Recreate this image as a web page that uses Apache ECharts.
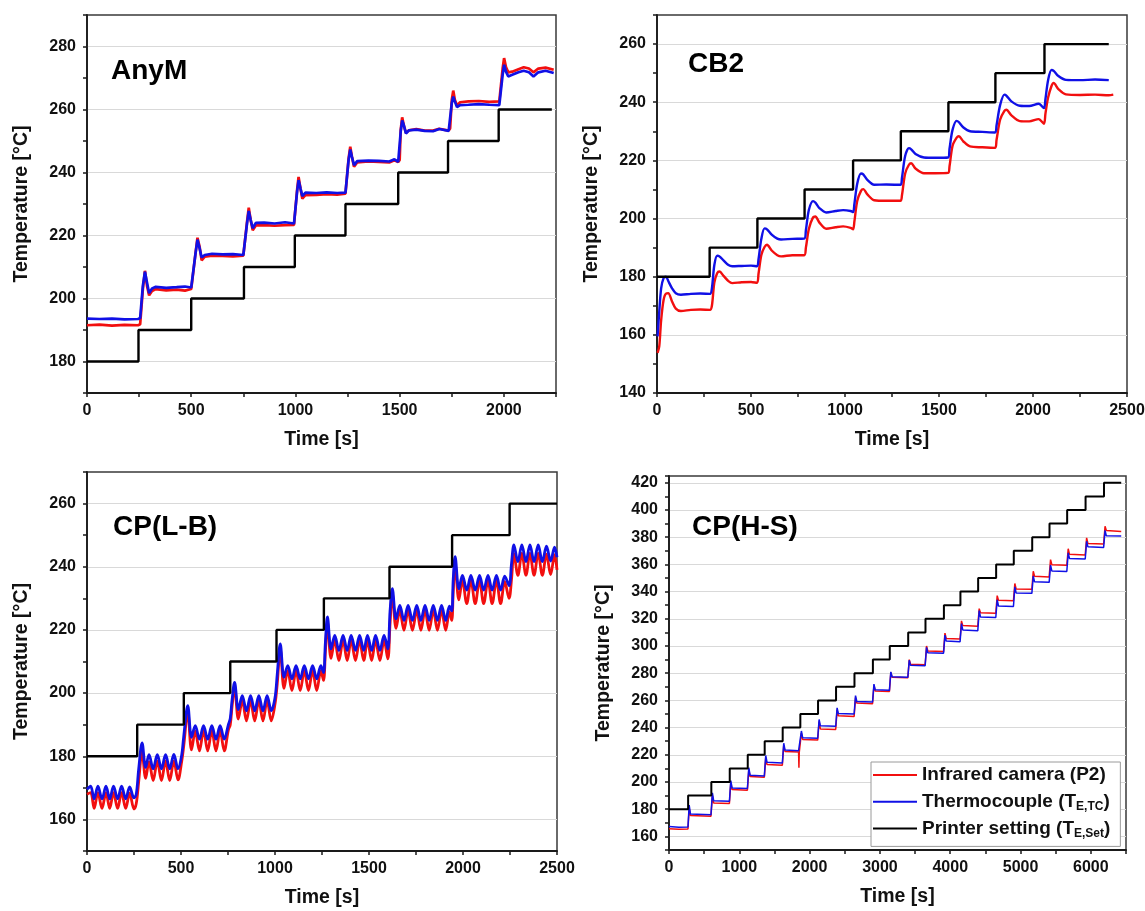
<!DOCTYPE html>
<html>
<head>
<meta charset="utf-8">
<title>Extruder temperature steps</title>
<script src="https://cdn.jsdelivr.net/npm/echarts@6/dist/echarts.min.js"></script>
<style>
  html, body { margin: 0; padding: 0; background: #ffffff; }
  #chart { width: 1145px; height: 911px; }
</style>
</head>
<body>
<div id="chart"></div>
<script>
// ---------- AnyM ----------
const anymTime = [0, 60, 120, 180, 245, 255, 268, 278, 288, 298, 312, 330, 380, 430, 470, 500, 508,
  520, 530, 540, 550, 565, 600, 650, 700, 750, 758, 768, 776, 785, 795, 810, 850, 900, 950, 993, 1000,
  1008, 1015, 1024, 1033, 1048, 1100, 1150, 1200, 1240, 1247, 1255, 1263, 1271, 1281, 1296, 1350, 1400,
  1450, 1475, 1493, 1500, 1505, 1512, 1520, 1530, 1545, 1580, 1620, 1660, 1690, 1735, 1742, 1750, 1757,
  1765, 1775, 1790, 1830, 1880, 1930, 1978, 1986, 1994, 2001, 2010, 2021, 2040, 2070, 2095, 2120, 2142,
  2165, 2200, 2239];
const anymTC = [193.6, 193.5, 193.6, 193.4, 193.5, 193.8, 204, 208.5, 205, 201.7, 203.2, 203.7, 203.4,
  203.6, 203.8, 203.5, 203.8, 214, 218.7, 216, 213, 213.8, 214.2, 214, 214.1, 213.8, 214.2, 224, 227.8,
  225, 222.3, 224, 224.1, 223.8, 224.2, 223.8, 224.3, 234, 237.6, 235, 232.5, 233.6, 233.5, 233.7, 233.5,
  233.6, 234, 244, 247.3, 245, 242.3, 243.6, 243.8, 243.7, 243.5, 244.2, 243.4, 244, 253, 256.5, 255,
  252.4, 253.4, 253.6, 253.2, 253.1, 253.8, 253.2, 253.8, 262, 264.1, 262.5, 260.8, 261.4, 261.5, 261.7,
  261.5, 261.4, 262, 271, 274.2, 272, 270.5, 271, 271.8, 272.3, 271.8, 270.5, 271.8, 272.3, 271.6];
const anymIR = [191.5, 191.7, 191.4, 191.6, 191.5, 191.8, 203, 208.8, 204, 201, 202.4, 203, 202.6,
  202.8, 202.5, 203, 203.3, 214, 219.3, 216.5, 212.1, 213.3, 213.6, 213.5, 213.4, 213.6, 214, 224.5, 228.8,
  225, 221.7, 223.2, 223.3, 223.1, 223.3, 223.4, 223.8, 234.5, 238.6, 235, 231.7, 232.8, 232.9, 233.1, 233,
  233.3, 233.8, 244.5, 248.2, 245, 241.8, 243.2, 243.5, 243.4, 243.2, 243.9, 243.3, 244, 253.5, 257.5, 255,
  252.6, 253.4, 253.8, 253.3, 253.3, 253.9, 253.3, 254, 263, 266, 263, 261.3, 262.3, 262.6, 262.7,
  262.4, 262.6, 263, 273, 276.3, 273.5, 271.8, 272, 272.8, 273.4, 273, 271.8, 273, 273.3, 272.6];
const anymSetTime = [0, 247, 500, 753, 997, 1240, 1493, 1732, 1975, 2230];
const anymSetTemp = [180, 190, 200, 210, 220, 230, 240, 250, 260, 260];

// ---------- CB2 ----------
const cb2Time = [3, 12, 22, 35, 48, 60, 80, 100, 127, 180, 230, 282, 292, 305, 320, 332, 355, 380, 400, 450,
  500, 532, 540, 555, 572, 585, 610, 640, 660, 720, 783, 792, 808, 830, 842, 865, 900, 950, 990, 1030,
  1043, 1050, 1065, 1085, 1097, 1120, 1155, 1220, 1295, 1303, 1320, 1340, 1352, 1375, 1420, 1480, 1548,
  1556, 1572, 1594, 1605, 1630, 1665, 1730, 1798, 1806, 1825, 1848, 1858, 1885, 1930, 1980, 2030, 2058,
  2066, 2080, 2098, 2110, 2135, 2175, 2250, 2330, 2403, 2427];
const cb2TC = [159.5, 168, 176, 179.5, 180, 178.5, 176, 174.3, 173.8, 174.1, 174.2, 174.1, 176, 184, 187.2,
  187, 185.5, 184, 183.6, 183.7, 183.8, 183.6, 186, 193, 196.6, 196.3, 194.5, 193.1, 192.8, 193, 193.1, 196,
  203, 206, 205.5, 203.5, 202.1, 202.6, 202.9, 202.6, 202.2, 205, 212, 215.5, 215.2, 213.2, 211.6, 211.7,
  211.6, 214, 221.5, 224.2, 223.8, 222.2, 221, 220.9, 221, 224, 230.5, 233.6, 233.2, 231.3, 230, 229.8,
  229.6, 232, 239, 242.6, 242.3, 240.3, 238.8, 238.7, 239.5, 238, 241, 247.5, 251.1, 250.8, 249, 247.7,
  247.6, 247.8, 247.6, null];
const cb2IR = [153.8, 156, 165, 172, 174.2, 174.3, 171.5, 169, 168.2, 168.6, 168.7, 168.6, 170, 178, 181.2,
  181.8, 180.2, 178.5, 177.8, 178.1, 178.2, 177.9, 181, 187.5, 190.2, 191, 189, 187.4, 187, 187.4, 187.4,
  190, 196.5, 200.4, 200.7, 198.5, 196.5, 197, 197.3, 196.8, 196.3, 199, 206, 209.5, 210.1, 208.2, 206.3,
  206.1, 206.1, 208, 215.5, 218.5, 219, 217.2, 215.6, 215.6, 215.7, 218, 225, 227.8, 228.3, 226.5, 224.8,
  224.5, 224.3, 227, 234, 237, 237.4, 235.5, 233.5, 233.4, 234.2, 232.6, 236, 241.5, 245.5, 246.6, 244.5,
  242.7, 242.5, 242.6, 242.4, 242.6];
const cb2SetTime = [0, 280, 534, 785, 1043, 1297, 1550, 1800, 2061, 2403];
const cb2SetTemp = [180, 190, 200, 210, 220, 230, 240, 250, 260, 260];

// ---------- CP(L-B) ----------
const lbTime = [0, 19, 38, 58, 80, 101, 121, 141, 163, 184, 206, 227, 250, 262,
  275, 293, 312, 330, 352, 374, 396, 418, 440, 462, 484, 504,
  514, 536, 556, 576, 598, 620, 642, 664, 686, 708, 730, 752, 762,
  772, 785, 805, 826, 848, 870, 892, 914, 936, 958, 980, 1000,
  1012, 1028, 1048, 1068, 1090, 1112, 1134, 1156, 1178, 1200, 1222, 1244, 1258,
  1268, 1279, 1298, 1318, 1340, 1362, 1384, 1405, 1428, 1450, 1472, 1492, 1514, 1535, 1558, 1580, 1600,
  1612, 1624, 1644, 1664, 1686, 1708, 1731, 1754, 1776, 1798, 1820, 1842, 1864, 1886, 1908, 1928, 1940,
  1948, 1958, 1978, 1997, 2020, 2042, 2065, 2088, 2110, 2133, 2155, 2178, 2200, 2222, 2245,
  2258, 2271, 2292, 2313, 2335, 2356, 2378, 2400, 2422, 2444, 2466, 2487, 2500];
const lbTC = [169.5, 170.5, 166.5, 170.5, 166.5, 170.5, 166.5, 170.5, 166.5, 170.5, 166.5, 170.3, 166.8, 168,
  176, 184.2, 176.5, 180.5, 176, 180.5, 176, 180.5, 176, 180.6, 176, 180.5,
  186, 196, 186, 189.7, 185.4, 189.7, 185.4, 189.7, 185.4, 189.7, 185.4, 190, 192,
  198, 203.4, 194.8, 199.2, 194.4, 199.2, 194.4, 199.2, 194.4, 199.2, 194.4, 198.5,
  206, 215.6, 205, 208.7, 204.5, 208.7, 204.5, 208.7, 204.5, 208.7, 204.5, 208.7, 206.5,
  216, 224.1, 214, 218.3, 213.5, 218.3, 213.5, 218.3, 213.5, 218.3, 213.5, 218.3, 213.5, 218.3, 213.5, 218.3, 214,
  226, 233.1, 223.5, 227.8, 223, 227.8, 223, 227.8, 223, 227.8, 223, 227.8, 223, 227.8, 223, 227.5, 226,
  236, 243.2, 233, 237.3, 232.6, 237.3, 232.6, 237.3, 232.6, 237.3, 232.6, 237.3, 232.6, 237, 234,
  241, 246.9, 241.6, 246.9, 241.6, 246.9, 241.6, 246.9, 241.6, 246.5, 241.8, 246.2, 243];
const lbIR = [168, 168.5, 163.5, 168.5, 163.5, 168.5, 163.5, 168.5, 163.5, 168.5, 163.5, 168.3, 163.3, 165,
  172, 181.5, 173, 178.3, 172.3, 178.5, 172.3, 178.5, 172.3, 178.5, 172.5, 178.5,
  183, 193.9, 182, 188, 181.7, 188.1, 181.7, 188.1, 181.7, 188.1, 181.7, 188.3, 190,
  196, 201.8, 191.8, 197.6, 191.2, 197.6, 191.2, 197.6, 191.2, 197.6, 191.2, 196.5,
  203, 214, 201.5, 207.1, 200.8, 207.1, 200.8, 207.1, 200.8, 207.1, 200.8, 207.1, 204,
  213, 222.5, 211, 216.7, 210.3, 216.7, 210.3, 216.7, 210.3, 216.7, 210.3, 216.7, 210.3, 216.7, 210.3, 216.7, 210.8,
  222, 231.5, 220.5, 226.2, 219.9, 226.2, 219.9, 226.2, 219.9, 226.2, 219.9, 226.2, 219.9, 226.2, 219.9, 225.8, 223,
  232, 241, 229.5, 235.7, 228.3, 235.7, 228.3, 235.7, 228.3, 235.7, 228.3, 235.7, 228.3, 235.3, 230,
  236, 244.2, 237.3, 244.2, 237.3, 244.2, 237.3, 244.2, 237.3, 244, 237.5, 243.8, 239];
const lbSetTime = [0, 267, 515, 762, 1008, 1260, 1609, 1942, 2248, 2500];
const lbSetTemp = [180, 190, 200, 210, 220, 230, 240, 250, 260, 260];

// ---------- CP(H-S) ----------
const hsTime = [0, 140, 270, 287, 305, 597, 617, 635, 859, 879, 897, 1115, 1135, 1153, 1356,
  1376, 1394, 1612, 1632, 1650, 1843, 1848, 1853, 1863, 1883, 1901, 2115, 2135, 2153, 2371,
  2391, 2409, 2633, 2653, 2671, 2895, 2915, 2933, 3135, 3155, 3173, 3397, 3417, 3435, 3643,
  3663, 3681, 3905, 3925, 3943, 4140, 4160, 4178, 4392, 4412, 4430, 4648, 4668, 4686, 4899,
  4919, 4937, 5161, 5181, 5199, 5407, 5427, 5445, 5658, 5678, 5696, 5920, 5940, 5958, 6182,
  6202, 6220, 6432];
const hsTC = [167.2, 166.8, 167, 183, 176.5, 176, 192, 186.3, 185.8, 201, 195.6, 195.2, 210.5, 205, 204.5,
  219.5, 214.5, 214, 228.5, 223.5, 223, 223, 223, 223, 237.5, 232.6, 232.2, 246, 241.3, 241,
  254.5, 250.3, 250, 263.5, 259.2, 258.8, 272, 267.8, 267.4, 281, 277.4, 277, 289.5, 285.8, 285.5,
  299, 295, 294.7, 308, 303.6, 303.2, 316.5, 311.8, 311.3, 326, 321.4, 321, 334, 329.4, 329,
  343.5, 339, 338.7, 351.5, 347.2, 346.8, 359.5, 355.2, 354.8, 368.5, 364.4, 364, 377, 372.9, 372.5,
  385, 381, 380.8];
const hsIR = [165.6, 165.3, 165.5, 181, 175.3, 174.8, 190, 184.6, 184.2, 199.5, 194.4, 194, 209, 204, 203.5,
  218, 212.8, 212.3, 227, 222.5, 222, 210.5, 222, 222, 236, 231.3, 230.8, 244.5, 239, 238.6,
  253, 248.7, 248.2, 262, 258, 257.5, 271, 267, 266.6, 280.5, 277, 276.6, 290, 286.6, 286.2,
  300, 296.3, 295.9, 309.5, 305.6, 305.2, 318.5, 315, 314.6, 327.5, 324.4, 324, 337, 333.6, 333.2,
  346, 342, 341.7, 355, 351.3, 350.8, 363.5, 359.8, 359.3, 371.5, 367.4, 367, 379.5, 375.4, 375,
  388, 385, 384.2];
const hsSetTime = [0, 272, 602, 864, 1120, 1361, 1617, 1868, 2120, 2376, 2638, 2900, 3140, 3402, 3648,
  3910, 4145, 4397, 4653, 4904, 5166, 5412, 5663, 5925, 6187, 6432];
const hsSetTemp = [180, 190, 200, 210, 220, 230, 240, 250, 260, 270, 280, 290, 300, 310, 320,
  330, 340, 350, 360, 370, 380, 390, 400, 410, 420, 420];

// ---------- legend / panel names ----------
const panelNames = ['AnyM', 'CB2', 'CP(L-B)', 'CP(H-S)'];
const seriesNames = ['Infrared camera (P2)', 'Thermocouple (TE,TC)', 'Printer setting (TE,Set)'];
const legendLabels = ['Infrared camera (P2)', 'Thermocouple (T{sub|E,TC})', 'Printer setting (T{sub|E,Set})'];

// ---------- drawing ----------
const FONT = '"Liberation Sans", Arial, Helvetica, sans-serif';
const RED = '#f20f0f';
const BLUE = '#1010e6';
const BLACK = '#000000';
const GRIDLINE = '#d9d9d9';
const NONE = 'rgba(0,0,0,0)';
const INK = '#1a1a1a';

const panels = [
  { grid: { left: 87, top: 15, width: 469, height: 378 }, x: [0, 2250, 250, 500], y: [170, 290, 10, 20],
    name: [111, 57], time: anymTime, ir: anymIR, tc: anymTC, setT: anymSetTime, setV: anymSetTemp,
    lw: 2.7, setLw: 2.4, smooth: false },
  { grid: { left: 657, top: 15, width: 470, height: 378 }, x: [0, 2500, 250, 500], y: [140, 270, 10, 20],
    name: [688, 50], time: cb2Time, ir: cb2IR, tc: cb2TC, setT: cb2SetTime, setV: cb2SetTemp,
    lw: 2.4, setLw: 2.4, smooth: 0.3 },
  { grid: { left: 87, top: 472, width: 470, height: 379 }, x: [0, 2500, 250, 500], y: [150, 270, 10, 20],
    name: [113, 513], time: lbTime, ir: lbIR, tc: lbTC, setT: lbSetTime, setV: lbSetTemp,
    lw: 2.8, setLw: 2.4, smooth: 0.35 },
  { grid: { left: 669, top: 476, width: 457, height: 374 }, x: [0, 6500, 500, 1000], y: [150, 425, 10, 20],
    name: [692, 513], time: hsTime, ir: hsIR, tc: hsTC, setT: hsSetTime, setV: hsSetTemp,
    lw: 1.5, setLw: 2, smooth: false }
];

function zip(xs, ys) { return xs.map((x, i) => [x, ys[i]]); }

const labelStyle = { fontFamily: FONT, fontSize: 16, fontWeight: 'bold', color: '#111' };
const nameStyle = { fontFamily: FONT, fontSize: 19.5, fontWeight: 'bold', color: '#111' };

const grids = [], xAxes = [], yAxes = [], series = [], titles = [];

panels.forEach((p, i) => {
  grids.push(Object.assign({ show: true, borderColor: '#3a3a3a', borderWidth: 1.5,
    backgroundColor: '#fff', containLabel: false, outerBoundsMode: 'none' }, p.grid));

  titles.push({ text: panelNames[i], left: p.name[0], top: p.name[1], padding: 0,
    textStyle: { fontFamily: FONT, fontSize: 28, fontWeight: 'bold', color: '#000' } });

  const xMajor = p.x[3];
  xAxes.push({
    type: 'value', gridIndex: i, min: p.x[0], max: p.x[1], interval: p.x[2],
    name: 'Time [s]', nameLocation: 'middle', nameGap: 37, nameTextStyle: nameStyle,
    axisLine: { show: true, onZero: false, lineStyle: { color: INK, width: 1.8 } },
    axisTick: { show: true, inside: false, length: 4, lineStyle: { color: INK, width: 1.5 } },
    axisLabel: Object.assign({ margin: 10, formatter: v => (v % xMajor === 0 ? String(v) : '') }, labelStyle),
    splitLine: { show: false }
  });

  const yMajor = p.y[3];
  yAxes.push({
    type: 'value', gridIndex: i, min: p.y[0], max: p.y[1], interval: p.y[2],
    name: 'Temperature [°C]', nameLocation: 'middle', nameGap: 55, nameTextStyle: nameStyle,
    axisLine: { show: true, onZero: false, lineStyle: { color: INK, width: 1.8 } },
    axisTick: { show: true, inside: false, length: 4, lineStyle: { color: INK, width: 1.5 } },
    axisLabel: Object.assign({ margin: 11, formatter: v => (v % yMajor === 0 ? String(v) : '') }, labelStyle),
    splitLine: { show: true, lineStyle: { width: 1.2,
      color: (p.y[0] % yMajor === 0) ? [GRIDLINE, NONE] : [NONE, GRIDLINE] } }
  });

  const common = { type: 'line', xAxisIndex: i, yAxisIndex: i, symbol: 'none', showSymbol: false,
    silent: true, animation: false };
  series.push(Object.assign({}, common, { name: seriesNames[0], data: zip(p.time, p.ir),
    smooth: p.smooth, lineStyle: { color: RED, width: p.lw }, itemStyle: { color: RED }, z: 2 }));
  series.push(Object.assign({}, common, { name: seriesNames[1], data: zip(p.time, p.tc),
    smooth: p.smooth, lineStyle: { color: BLUE, width: p.lw }, itemStyle: { color: BLUE }, z: 3 }));
  series.push(Object.assign({}, common, { name: seriesNames[2], data: zip(p.setT, p.setV),
    step: 'end', lineStyle: { color: BLACK, width: p.setLw }, itemStyle: { color: BLACK }, z: 4 }));
});

const chart = echarts.init(document.getElementById('chart'), null, { renderer: 'canvas' });
chart.setOption({
  backgroundColor: '#ffffff',
  animation: false,
  title: titles,
  grid: grids,
  xAxis: xAxes,
  yAxis: yAxes,
  legend: {
    data: seriesNames, orient: 'vertical', left: 871, top: 762,
    icon: 'rect', itemWidth: 44, itemHeight: 2, itemGap: 4.7, padding: [2, 10, 7, 2],
    backgroundColor: '#ffffff', borderColor: '#9a9a9a', borderWidth: 1, borderRadius: 0,
    selectedMode: false,
    formatter: name => legendLabels[seriesNames.indexOf(name)],
    textStyle: { fontFamily: FONT, fontSize: 19, fontWeight: 'bold', color: '#111', lineHeight: 22,
      rich: { sub: { fontFamily: FONT, fontSize: 12, fontWeight: 'bold', color: '#111',
        lineHeight: 12, verticalAlign: 'bottom' } } }
  },
  series: series
});
</script>
</body>
</html>
